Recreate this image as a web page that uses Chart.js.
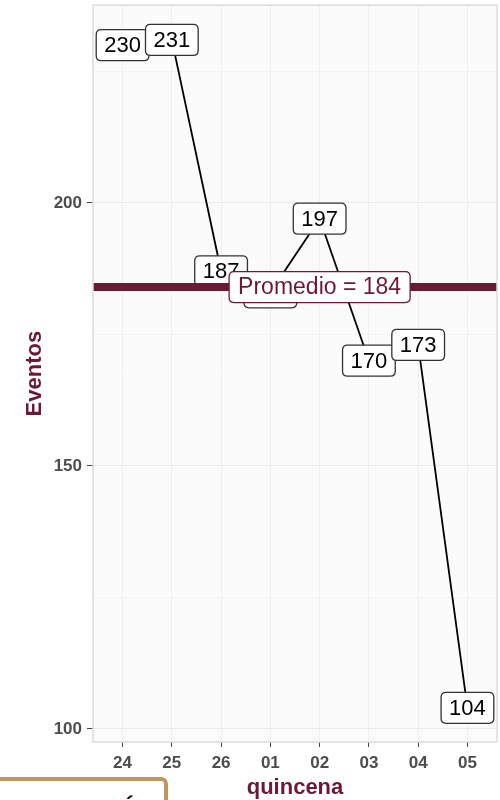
<!DOCTYPE html>
<html>
<head>
<meta charset="utf-8">
<script src="https://cdn.jsdelivr.net/npm/chart.js@4"></script>
<style>
  html, body { margin: 0; padding: 0; background: #fff; }
  #wrap { position: relative; width: 500px; height: 800px; }
  #tag {
    position: absolute; left: -4px; top: 777px; width: 164px; height: 30px;
    border: 4px solid #c0965c; border-radius: 0 7px 0 0; background: #fff;
    overflow: hidden;
  }
  #tag span {
    position: absolute; left: 120px; top: 14px;
    font: bold 24px "Liberation Sans", Arial, sans-serif; color: #000;
  }
</style>
</head>
<body>
<div id="wrap">
  <canvas id="chart" width="500" height="800"></canvas>
  <div id="tag"><span>Á</span></div>
</div>
<script>
const quincenas = ['24', '25', '26', '01', '02', '03', '04', '05'];
const eventos = [230, 231, 187, 183, 197, 170, 173, 104];
const promedio = 184;
const yTicks = [100, 150, 200];
const yMinor = [125, 175, 225];

const maroon = '#6b1a36';
const fam = '"Liberation Sans", Arial, sans-serif';

function roundBox(ctx, x, y, w, h, r) {
    ctx.beginPath();
    ctx.moveTo(x + r, y);
    ctx.lineTo(x + w - r, y);
    ctx.quadraticCurveTo(x + w, y, x + w, y + r);
    ctx.lineTo(x + w, y + h - r);
    ctx.quadraticCurveTo(x + w, y + h, x + w - r, y + h);
    ctx.lineTo(x + r, y + h);
    ctx.quadraticCurveTo(x, y + h, x, y + h - r);
    ctx.lineTo(x, y + r);
    ctx.quadraticCurveTo(x, y, x + r, y);
    ctx.closePath();
}

function drawLabel(ctx, text, cx, cy, size, color, border, padX) {
    ctx.font = size + 'px ' + fam;
    const w = ctx.measureText(text).width + padX * 2;
    const h = 31;
    roundBox(ctx, cx - w / 2, cy - h / 2, w, h, 5);
    ctx.fillStyle = '#fff';
    ctx.fill();
    ctx.lineWidth = 1.3;
    ctx.strokeStyle = border;
    ctx.stroke();
    ctx.fillStyle = color;
    ctx.textAlign = 'center';
    ctx.textBaseline = 'middle';
    ctx.fillText(text, cx, cy + 1);
}

// fondo del panel
const panelBg = {
    id: 'panelBg',
    beforeDraw(chart) {
        const { ctx, chartArea: a } = chart;
        ctx.save();
        ctx.fillStyle = '#fbfbfb';
        ctx.fillRect(a.left, a.top, a.right - a.left, a.bottom - a.top);
        ctx.restore();
    },
    afterDraw(chart) {
        const { ctx, chartArea: a } = chart;
        ctx.save();
        ctx.strokeStyle = '#dcdcdc';
        ctx.lineWidth = 1.5;
        ctx.strokeRect(a.left, a.top, a.right - a.left, a.bottom - a.top);
        ctx.restore();
    }
};

// etiquetas de valores, linea del promedio y su etiqueta
const etiquetas = {
    id: 'etiquetas',
    afterDatasetsDraw(chart) {
        const { ctx, chartArea: a, scales: { x, y } } = chart;
        ctx.save();
        eventos.forEach((v, i) => {
            drawLabel(ctx, String(v), x.getPixelForValue(i), y.getPixelForValue(v), 22, '#000', '#333', 8);
        });
        const yp = y.getPixelForValue(promedio);
        ctx.strokeStyle = maroon;
        ctx.lineWidth = 8;
        ctx.beginPath();
        ctx.moveTo(a.left, yp);
        ctx.lineTo(a.right, yp);
        ctx.stroke();
        drawLabel(ctx, 'Promedio = ' + promedio, x.getPixelForValue(4), yp, 23, maroon, maroon, 9);
        ctx.restore();
    }
};

new Chart(document.getElementById('chart').getContext('2d'), {
    type: 'line',
    data: {
        datasets: [{
            data: eventos.map((v, i) => ({ x: i, y: v })),
            borderColor: '#000',
            borderWidth: 1.8,
            pointRadius: 0,
            tension: 0
        }]
    },
    options: {
        responsive: false,
        animation: false,
        layout: { padding: { top: 5, right: 3, left: 0, bottom: 0 } },
        plugins: { legend: { display: false }, tooltip: { enabled: false } },
        scales: {
            x: {
                type: 'linear',
                min: -0.6,
                max: 7.6,
                afterBuildTicks: s => { s.ticks = quincenas.map((q, i) => ({ value: i })); },
                afterFit: s => { s.height = 58; },
                border: { display: false },
                grid: { color: '#efefef', lineWidth: 1, tickLength: 5, tickColor: '#444' },
                ticks: {
                    padding: 6,
                    color: '#4d4d4d',
                    font: { family: fam, size: 17, weight: 'bold' },
                    callback: v => quincenas[v]
                },
                title: {
                    display: true,
                    text: 'quincena',
                    color: maroon,
                    font: { family: fam, size: 22, weight: 'bold' },
                    padding: { top: 0, bottom: -1 }
                }
            },
            y: {
                min: 97.5,
                max: 237.6,
                afterBuildTicks: s => {
                    s.ticks = yTicks.concat(yMinor).sort((p, q) => p - q).map(v => ({ value: v }));
                },
                afterFit: s => { s.width = 93; },
                border: { display: false },
                grid: {
                    color: c => yTicks.includes(c.tick.value) ? '#ebebeb' : '#f3f3f3',
                    tickColor: c => yTicks.includes(c.tick.value) ? '#444' : 'rgba(0,0,0,0)',
                    tickLength: 6
                },
                ticks: {
                    padding: 5,
                    color: '#4d4d4d',
                    font: { family: fam, size: 17, weight: 'bold', lineHeight: 0.02 },
                    callback: v => yTicks.includes(v) ? String(v) : ''
                },
                title: {
                    display: true,
                    text: 'Eventos',
                    color: maroon,
                    font: { family: fam, size: 22, weight: 'bold' },
                    padding: { top: 22, bottom: 0 }
                }
            }
        }
    },
    plugins: [panelBg, etiquetas]
});
</script>
</body>
</html>
